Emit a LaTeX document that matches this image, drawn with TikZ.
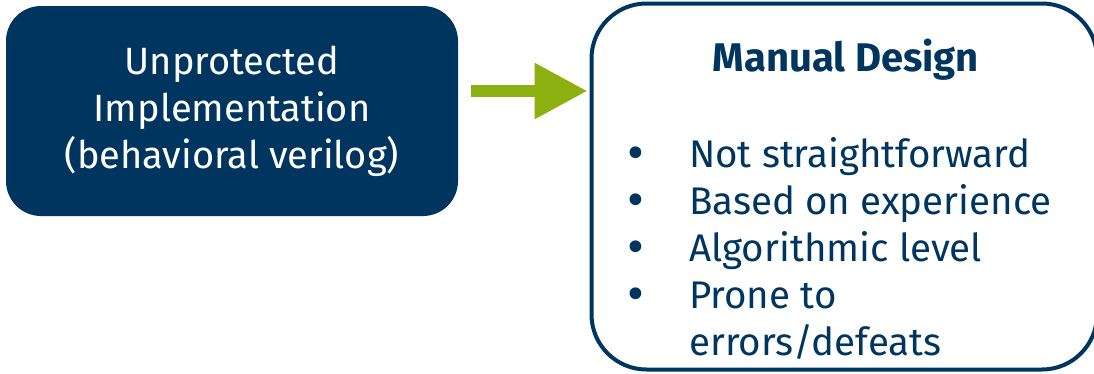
\documentclass[tikz,border=0pt]{standalone}
\usepackage{fontspec}
\setmainfont{Fira Sans}
\usetikzlibrary{arrows.meta}
\definecolor{navy}{RGB}{0,53,96}
\definecolor{leaf}{RGB}{141,176,17}
\begin{document}
\begin{tikzpicture}[x=1pt,y=-1pt,
  darkbox/.style={fill=navy, rounded corners=35pt, inner sep=0pt, outer sep=0pt,
    minimum width=452pt, minimum height=210pt, text=white, align=center,
    font=\fontsize{38}{47}\selectfont},
  linebox/.style={draw=navy, line width=4pt, rounded corners=55pt, inner sep=0pt, outer sep=0pt,
    minimum width=505.5pt, minimum height=366pt},
  bodytext/.style={text=navy, inner sep=0pt, font=\fontsize{38.5}{47}\selectfont},
  bullettext/.style={text=navy, inner sep=0pt, text height=20pt, text depth=0pt,
    font=\fontsize{52}{47}\selectfont},
  titletext/.style={text=navy, inner sep=0pt, font=\fontsize{40}{47}\selectfont\bfseries},
  bigarrow/.style={draw=leaf, line width=12pt, -{Triangle[length=53pt,width=53pt]}}
]
\useasboundingbox (0,0) rectangle (1094,373);
\clip (0,0) rectangle (1094,373);
\node[darkbox] (left) at (232,111) {Unprotected\\Implementation\\(behavioral verilog)};
\node[linebox] (right) at (844.25,186.5) {};
\coordinate (ay) at (0,91);
\draw[bigarrow, shorten <=13pt, shorten >=4pt] (left.east |- ay) -- (right.west |- ay);
\node[titletext, anchor=base] (title) at (846,71) {Manual Design};
\node[bullettext, anchor=base] (b1) at (636,170) {•};
\node[bodytext, anchor=base west] (t1) at (689,167) {Not straightforward};
\node[bullettext, anchor=base] (b2) at (636,217) {•};
\node[bodytext, anchor=base west] (t2) at (689,214) {Based on experience};
\node[bullettext, anchor=base] (b3) at (636,264) {•};
\node[bodytext, anchor=base west] (t3) at (689,261) {Algorithmic level};
\node[bullettext, anchor=base] (b4) at (636,311) {•};
\node[bodytext, anchor=base west] (t4) at (689,308) {Prone to};
\node[bodytext, anchor=base west] (t5) at (689,355) {errors/defeats};
\end{tikzpicture}
\end{document}
